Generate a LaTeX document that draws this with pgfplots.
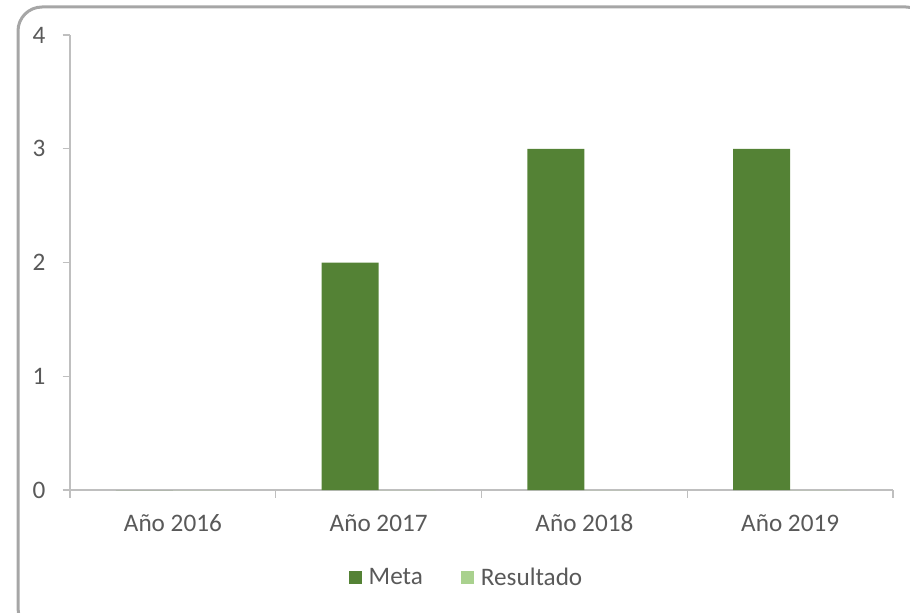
\documentclass[border=0pt]{standalone}
\usepackage{fontspec}
\setmainfont{Carlito}
\usepackage{pgfplots}
\pgfplotsset{compat=1.18}
\definecolor{meta}{HTML}{548235}
\definecolor{resultado}{HTML}{A9D18E}
\definecolor{txt}{HTML}{595959}
\definecolor{axl}{HTML}{BFBFBF}
\begin{document}
\begin{tikzpicture}
% page = 910 x 612 px, 1 px = 0.5pt, y measured from bottom
\path[use as bounding box] (0pt,0pt) rectangle (455pt,306pt);
\begin{scope}
\clip (0pt,0pt) rectangle (455pt,306pt);
\draw[line width=1.5pt, gray!70, rounded corners=12pt] (9pt,-10pt) rectangle (465pt,302.5pt);
\end{scope}
\begin{axis}[
  at={(35pt,61pt)}, anchor=south west,
  scale only axis, width=411.5pt, height=227.5pt,
  ybar=0pt, bar width=28.5pt,
  xmin=-0.5, xmax=3.5, ymin=0, ymax=4,
  xtick={-0.5,0.5,1.5,2.5,3.5},
  xticklabels={},
  extra x ticks={0,1,2,3},
  extra x tick labels={Año 2016, Año 2017, Año 2018, Año 2019},
  extra x tick style={major tick length=0pt, tick style={draw=none}},
  ytick={0,1,2,3,4},
  axis x line*=bottom, axis y line*=left,
  axis line style={axl, line width=0.8pt, -},
  tick style={axl, line width=0.6pt},
  tick align=outside, major tick length=3.75pt,
  ticklabel style={font=\fontsize{12.6}{14}\selectfont, text=txt},
  /pgf/number format/assume math mode=true,
  yticklabel style={xshift=-5pt},
  xticklabel style={yshift=-8pt, text height=9pt, text depth=2pt},
  legend style={at={(0.483,-0.193)}, anchor=center, draw=none, fill=none,
    legend columns=2, font=\fontsize{12.6}{14}\selectfont, text=txt,
    /tikz/every even column/.append style={column sep=17pt}},
  legend image code/.code={\fill[#1] (0pt,-3.25pt) rectangle (6.5pt,3.25pt); \path (8pt,0pt);},
]
\addplot[fill=meta, draw=none] coordinates {(0,0) (1,2) (2,3) (3,3)};
\addlegendentry{Meta}
\addplot[fill=resultado, draw=none] coordinates {(0,0) (1,0) (2,0) (3,0)};
\addlegendentry{Resultado}
\end{axis}
\end{tikzpicture}
\end{document}
